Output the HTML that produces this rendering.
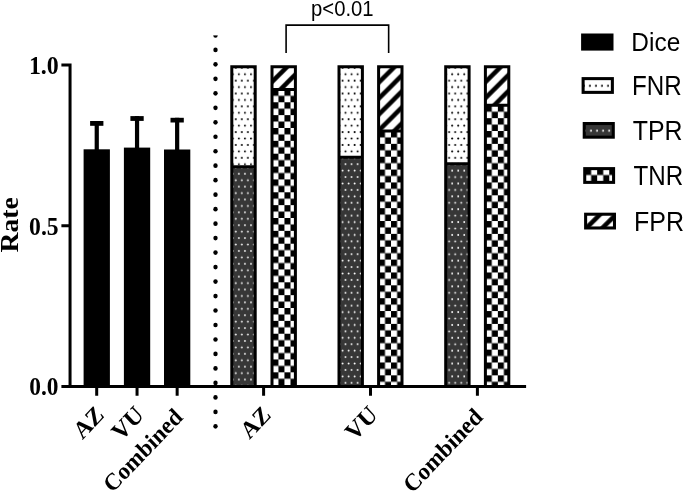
<!DOCTYPE html>
<html><head><meta charset="utf-8"><style>
html,body{margin:0;padding:0;background:#fff;}
svg{display:block;will-change:transform;}
</style></head><body>
<svg width="685" height="492" viewBox="0 0 685 492">
<defs><pattern id="p1" patternUnits="userSpaceOnUse" x="231.80" y="166.85" width="6.05" height="12.86"><rect width="6.05" height="12.86" fill="#373737"/><circle cx="4.05" cy="0.50" r="0.9" fill="#fff"/><circle cx="4.05" cy="13.36" r="0.9" fill="#fff"/><circle cx="1.00" cy="6.93" r="0.9" fill="#fff"/></pattern><pattern id="p2" patternUnits="userSpaceOnUse" x="231.80" y="66.80" width="6.05" height="12.86"><rect width="6.05" height="12.86" fill="#fff"/><circle cx="4.05" cy="1.02" r="1.0" fill="#000"/><circle cx="1.00" cy="7.45" r="1.0" fill="#000"/></pattern><pattern id="p3" patternUnits="userSpaceOnUse" x="272.35" y="89.40" width="12.1" height="12.86"><rect width="12.1" height="12.86" fill="#000"/><rect x="6.05" y="0" width="6.05" height="6.43" fill="#fff"/><rect x="0" y="6.43" width="6.05" height="6.43" fill="#fff"/></pattern><pattern id="p4" patternUnits="userSpaceOnUse" x="271.10" y="66.80" width="16.0" height="16.0"><rect width="16.0" height="16.0" fill="#fff"/><polygon points="0,0 3.175,0 0,3.175" fill="#000"/><polygon points="12.825,0 16.0,0 16.0,3.175 3.175,16.0 0,16.0 0,12.825" fill="#000"/><polygon points="16.0,12.825 16.0,16.0 12.825,16.0" fill="#000"/></pattern><pattern id="p5" patternUnits="userSpaceOnUse" x="338.50" y="157.25" width="6.05" height="12.86"><rect width="6.05" height="12.86" fill="#373737"/><circle cx="4.05" cy="0.50" r="0.9" fill="#fff"/><circle cx="4.05" cy="13.36" r="0.9" fill="#fff"/><circle cx="1.00" cy="6.93" r="0.9" fill="#fff"/></pattern><pattern id="p6" patternUnits="userSpaceOnUse" x="338.50" y="66.80" width="6.05" height="12.86"><rect width="6.05" height="12.86" fill="#fff"/><circle cx="4.05" cy="1.02" r="1.0" fill="#000"/><circle cx="1.00" cy="7.45" r="1.0" fill="#000"/></pattern><pattern id="p7" patternUnits="userSpaceOnUse" x="378.95" y="131.00" width="12.1" height="12.86"><rect width="12.1" height="12.86" fill="#000"/><rect x="6.05" y="0" width="6.05" height="6.43" fill="#fff"/><rect x="0" y="6.43" width="6.05" height="6.43" fill="#fff"/></pattern><pattern id="p8" patternUnits="userSpaceOnUse" x="378.50" y="66.80" width="16.0" height="16.0"><rect width="16.0" height="16.0" fill="#fff"/><polygon points="0,0 3.175,0 0,3.175" fill="#000"/><polygon points="12.825,0 16.0,0 16.0,3.175 3.175,16.0 0,16.0 0,12.825" fill="#000"/><polygon points="16.0,12.825 16.0,16.0 12.825,16.0" fill="#000"/></pattern><pattern id="p9" patternUnits="userSpaceOnUse" x="445.10" y="163.70" width="6.05" height="12.86"><rect width="6.05" height="12.86" fill="#373737"/><circle cx="4.05" cy="0.50" r="0.9" fill="#fff"/><circle cx="4.05" cy="13.36" r="0.9" fill="#fff"/><circle cx="1.00" cy="6.93" r="0.9" fill="#fff"/></pattern><pattern id="p10" patternUnits="userSpaceOnUse" x="445.10" y="66.80" width="6.05" height="12.86"><rect width="6.05" height="12.86" fill="#fff"/><circle cx="4.05" cy="1.02" r="1.0" fill="#000"/><circle cx="1.00" cy="7.45" r="1.0" fill="#000"/></pattern><pattern id="p11" patternUnits="userSpaceOnUse" x="485.75" y="105.30" width="12.1" height="12.86"><rect width="12.1" height="12.86" fill="#000"/><rect x="6.05" y="0" width="6.05" height="6.43" fill="#fff"/><rect x="0" y="6.43" width="6.05" height="6.43" fill="#fff"/></pattern><pattern id="p12" patternUnits="userSpaceOnUse" x="484.70" y="66.80" width="16.0" height="16.0"><rect width="16.0" height="16.0" fill="#fff"/><polygon points="0,0 3.175,0 0,3.175" fill="#000"/><polygon points="12.825,0 16.0,0 16.0,3.175 3.175,16.0 0,16.0 0,12.825" fill="#000"/><polygon points="16.0,12.825 16.0,16.0 12.825,16.0" fill="#000"/></pattern><pattern id="p13" patternUnits="userSpaceOnUse" x="583.12" y="78.62" width="6.05" height="12.86"><rect width="6.05" height="12.86" fill="#fff"/><circle cx="0.80" cy="7.15" r="1.0" fill="#000"/><circle cx="6.85" cy="7.15" r="1.0" fill="#000"/></pattern><pattern id="p14" patternUnits="userSpaceOnUse" x="584.23" y="123.53" width="6.05" height="12.86"><rect width="6.05" height="12.86" fill="#373737"/><circle cx="0.80" cy="7.15" r="1.0" fill="#fff"/><circle cx="6.85" cy="7.15" r="1.0" fill="#fff"/></pattern><pattern id="p15" patternUnits="userSpaceOnUse" x="585.08" y="168.62" width="12.1" height="12.86"><rect width="12.1" height="12.86" fill="#000"/><rect x="6.05" y="0" width="6.05" height="6.43" fill="#fff"/><rect x="0" y="6.43" width="6.05" height="6.43" fill="#fff"/></pattern><pattern id="p16" patternUnits="userSpaceOnUse" x="584.23" y="214.22" width="16.0" height="16.0"><rect width="16.0" height="16.0" fill="#fff"/><polygon points="0,0 3.175,0 0,3.175" fill="#000"/><polygon points="12.825,0 16.0,0 16.0,3.175 3.175,16.0 0,16.0 0,12.825" fill="#000"/><polygon points="16.0,12.825 16.0,16.0 12.825,16.0" fill="#000"/></pattern></defs>
<rect width="685" height="492" fill="#fff"/>
<rect x="83.6" y="149.3" width="26.3" height="237.2" fill="#000"/>
<rect x="94.65" y="121.0" width="4.2" height="29.30" fill="#000"/>
<rect x="90.10" y="121.0" width="13.3" height="4.80" fill="#000"/>
<rect x="123.9" y="147.6" width="26.3" height="238.9" fill="#000"/>
<rect x="134.95" y="116.1" width="4.2" height="32.50" fill="#000"/>
<rect x="130.40" y="116.1" width="13.3" height="4.80" fill="#000"/>
<rect x="164.0" y="149.5" width="26.3" height="237.0" fill="#000"/>
<rect x="175.05" y="117.8" width="4.2" height="32.70" fill="#000"/>
<rect x="170.50" y="117.8" width="13.3" height="4.70" fill="#000"/>
<rect x="231.80" y="166.85" width="23.40" height="219.65" fill="url(#p1)"/>
<rect x="231.80" y="66.80" width="23.40" height="100.05" fill="url(#p2)"/>
<path d="M231.80,66.80H255.20V386.50H231.80ZM231.80,166.85H255.20" fill="none" stroke="#000" stroke-width="3.0"/>
<rect x="272.00" y="89.40" width="23.40" height="297.10" fill="url(#p3)"/>
<rect x="272.00" y="66.80" width="23.40" height="22.60" fill="url(#p4)"/>
<path d="M272.00,66.80H295.40V386.50H272.00ZM272.00,89.40H295.40" fill="none" stroke="#000" stroke-width="3.0"/>
<rect x="339.00" y="157.25" width="23.40" height="229.25" fill="url(#p5)"/>
<rect x="339.00" y="66.80" width="23.40" height="90.45" fill="url(#p6)"/>
<path d="M339.00,66.80H362.40V386.50H339.00ZM339.00,157.25H362.40" fill="none" stroke="#000" stroke-width="3.0"/>
<rect x="378.60" y="131.00" width="23.40" height="255.50" fill="url(#p7)"/>
<rect x="378.60" y="66.80" width="23.40" height="64.20" fill="url(#p8)"/>
<path d="M378.60,66.80H402.00V386.50H378.60ZM378.60,131.00H402.00" fill="none" stroke="#000" stroke-width="3.0"/>
<rect x="445.70" y="163.70" width="23.40" height="222.80" fill="url(#p9)"/>
<rect x="445.70" y="66.80" width="23.40" height="96.90" fill="url(#p10)"/>
<path d="M445.70,66.80H469.10V386.50H445.70ZM445.70,163.70H469.10" fill="none" stroke="#000" stroke-width="3.0"/>
<rect x="485.40" y="105.30" width="23.40" height="281.20" fill="url(#p11)"/>
<rect x="485.40" y="66.80" width="23.40" height="38.50" fill="url(#p12)"/>
<path d="M485.40,66.80H508.80V386.50H485.40ZM485.40,105.30H508.80" fill="none" stroke="#000" stroke-width="3.0"/>
<path d="M70.05,63.5V386.5M61.4,386.5H526.1M61.4,225.75H70.05M61.4,65.00H70.05M96.7,386.5V395.8M137.05,386.5V395.8M177.15,386.5V395.8M263.6,386.5V395.8M370.5,386.5V395.8M477.4,386.5V395.8" fill="none" stroke="#000" stroke-width="3"/>
<ellipse cx="215.5" cy="35.40" rx="2.2" ry="2.35" fill="#000"/>
<ellipse cx="215.5" cy="49.88" rx="2.2" ry="2.35" fill="#000"/>
<ellipse cx="215.5" cy="64.36" rx="2.2" ry="2.35" fill="#000"/>
<ellipse cx="215.5" cy="78.84" rx="2.2" ry="2.35" fill="#000"/>
<ellipse cx="215.5" cy="93.32" rx="2.2" ry="2.35" fill="#000"/>
<ellipse cx="215.5" cy="107.80" rx="2.2" ry="2.35" fill="#000"/>
<ellipse cx="215.5" cy="122.28" rx="2.2" ry="2.35" fill="#000"/>
<ellipse cx="215.5" cy="136.76" rx="2.2" ry="2.35" fill="#000"/>
<ellipse cx="215.5" cy="151.24" rx="2.2" ry="2.35" fill="#000"/>
<ellipse cx="215.5" cy="165.72" rx="2.2" ry="2.35" fill="#000"/>
<ellipse cx="215.5" cy="180.20" rx="2.2" ry="2.35" fill="#000"/>
<ellipse cx="215.5" cy="194.68" rx="2.2" ry="2.35" fill="#000"/>
<ellipse cx="215.5" cy="209.16" rx="2.2" ry="2.35" fill="#000"/>
<ellipse cx="215.5" cy="223.64" rx="2.2" ry="2.35" fill="#000"/>
<ellipse cx="215.5" cy="238.12" rx="2.2" ry="2.35" fill="#000"/>
<ellipse cx="215.5" cy="252.60" rx="2.2" ry="2.35" fill="#000"/>
<ellipse cx="215.5" cy="267.08" rx="2.2" ry="2.35" fill="#000"/>
<ellipse cx="215.5" cy="281.56" rx="2.2" ry="2.35" fill="#000"/>
<ellipse cx="215.5" cy="296.04" rx="2.2" ry="2.35" fill="#000"/>
<ellipse cx="215.5" cy="310.52" rx="2.2" ry="2.35" fill="#000"/>
<ellipse cx="215.5" cy="325.00" rx="2.2" ry="2.35" fill="#000"/>
<ellipse cx="215.5" cy="339.48" rx="2.2" ry="2.35" fill="#000"/>
<ellipse cx="215.5" cy="353.96" rx="2.2" ry="2.35" fill="#000"/>
<ellipse cx="215.5" cy="368.44" rx="2.2" ry="2.35" fill="#000"/>
<ellipse cx="215.5" cy="382.92" rx="2.2" ry="2.35" fill="#000"/>
<ellipse cx="215.5" cy="397.40" rx="2.2" ry="2.35" fill="#000"/>
<ellipse cx="215.5" cy="411.88" rx="2.2" ry="2.35" fill="#000"/>
<ellipse cx="215.5" cy="426.36" rx="2.2" ry="2.35" fill="#000"/>
<rect x="210" y="30" width="12" height="5.4" fill="#fff"/>
<polyline points="286.1,53.1 286.1,25.1 388.65,25.1 388.65,53.1" fill="none" stroke="#000" stroke-width="1.6"/>
<text transform="matrix(0.9963 0 0 1.0646 28.91 73.83) rotate(0)" font-family="Liberation Serif" font-weight="bold" font-size="24">1.0</text>
<text transform="matrix(0.9857 0 0 1.0708 29.11 234.73) rotate(0)" font-family="Liberation Serif" font-weight="bold" font-size="24">0.5</text>
<text transform="matrix(0.9750 0 0 1.0831 29.32 395.33) rotate(0)" font-family="Liberation Serif" font-weight="bold" font-size="24">0.0</text>
<text transform="matrix(0.9855 0 0 1.0621 17.75 252.53) rotate(-90)" font-family="Liberation Serif" font-weight="bold" font-size="26">Rate</text>
<text transform="matrix(0.9649 0 0 1.0273 82.43 440.26) rotate(-45)" font-family="Liberation Serif" font-weight="bold" font-size="24">AZ</text>
<text transform="matrix(0.9905 0 0 1.0373 120.95 441.81) rotate(-45)" font-family="Liberation Serif" font-weight="bold" font-size="24">VU</text>
<text transform="matrix(0.9503 0 0 0.9957 112.33 493.53) rotate(-45)" font-family="Liberation Serif" font-weight="bold" font-size="24">Combined</text>
<text transform="matrix(0.9544 0 0 1.0091 249.56 439.95) rotate(-45)" font-family="Liberation Serif" font-weight="bold" font-size="24">AZ</text>
<text transform="matrix(0.9905 0 0 1.0508 354.55 441.98) rotate(-45)" font-family="Liberation Serif" font-weight="bold" font-size="24">VU</text>
<text transform="matrix(0.9503 0 0 1.0055 412.33 493.97) rotate(-45)" font-family="Liberation Serif" font-weight="bold" font-size="24">Combined</text>
<text transform="matrix(1.0134 0 0 1.1222 311.03 16.41) rotate(0)" font-family="Liberation Sans" font-size="20">p&lt;0.01</text>
<text transform="matrix(1.0178 0 0 1.1086 631.36 51.42) rotate(0)" font-family="Liberation Sans" font-size="24">Dice</text>
<text transform="matrix(1.0076 0 0 1.1333 631.98 94.90) rotate(0)" font-family="Liberation Sans" font-size="24">FNR</text>
<text transform="matrix(1.0378 0 0 1.1697 632.68 140.30) rotate(0)" font-family="Liberation Sans" font-size="24">TPR</text>
<text transform="matrix(1.0073 0 0 1.1576 633.50 185.10) rotate(0)" font-family="Liberation Sans" font-size="24">TNR</text>
<text transform="matrix(1.0413 0 0 1.1636 634.02 231.00) rotate(0)" font-family="Liberation Sans" font-size="24">FPR</text>
<rect x="581.1" y="33.5" width="32.40" height="17.10" fill="#000"/>
<rect x="583.12" y="78.62" width="29.25" height="13.75" fill="url(#p13)" stroke="#000" stroke-width="3.05"/>
<rect x="584.23" y="123.53" width="29.05" height="13.65" fill="url(#p14)" stroke="#000" stroke-width="3.05"/>
<rect x="584.73" y="168.62" width="28.85" height="13.75" fill="url(#p15)" stroke="#000" stroke-width="3.05"/>
<rect x="585.62" y="214.22" width="28.85" height="13.75" fill="url(#p16)" stroke="#000" stroke-width="3.05"/>
</svg>
</body></html>
